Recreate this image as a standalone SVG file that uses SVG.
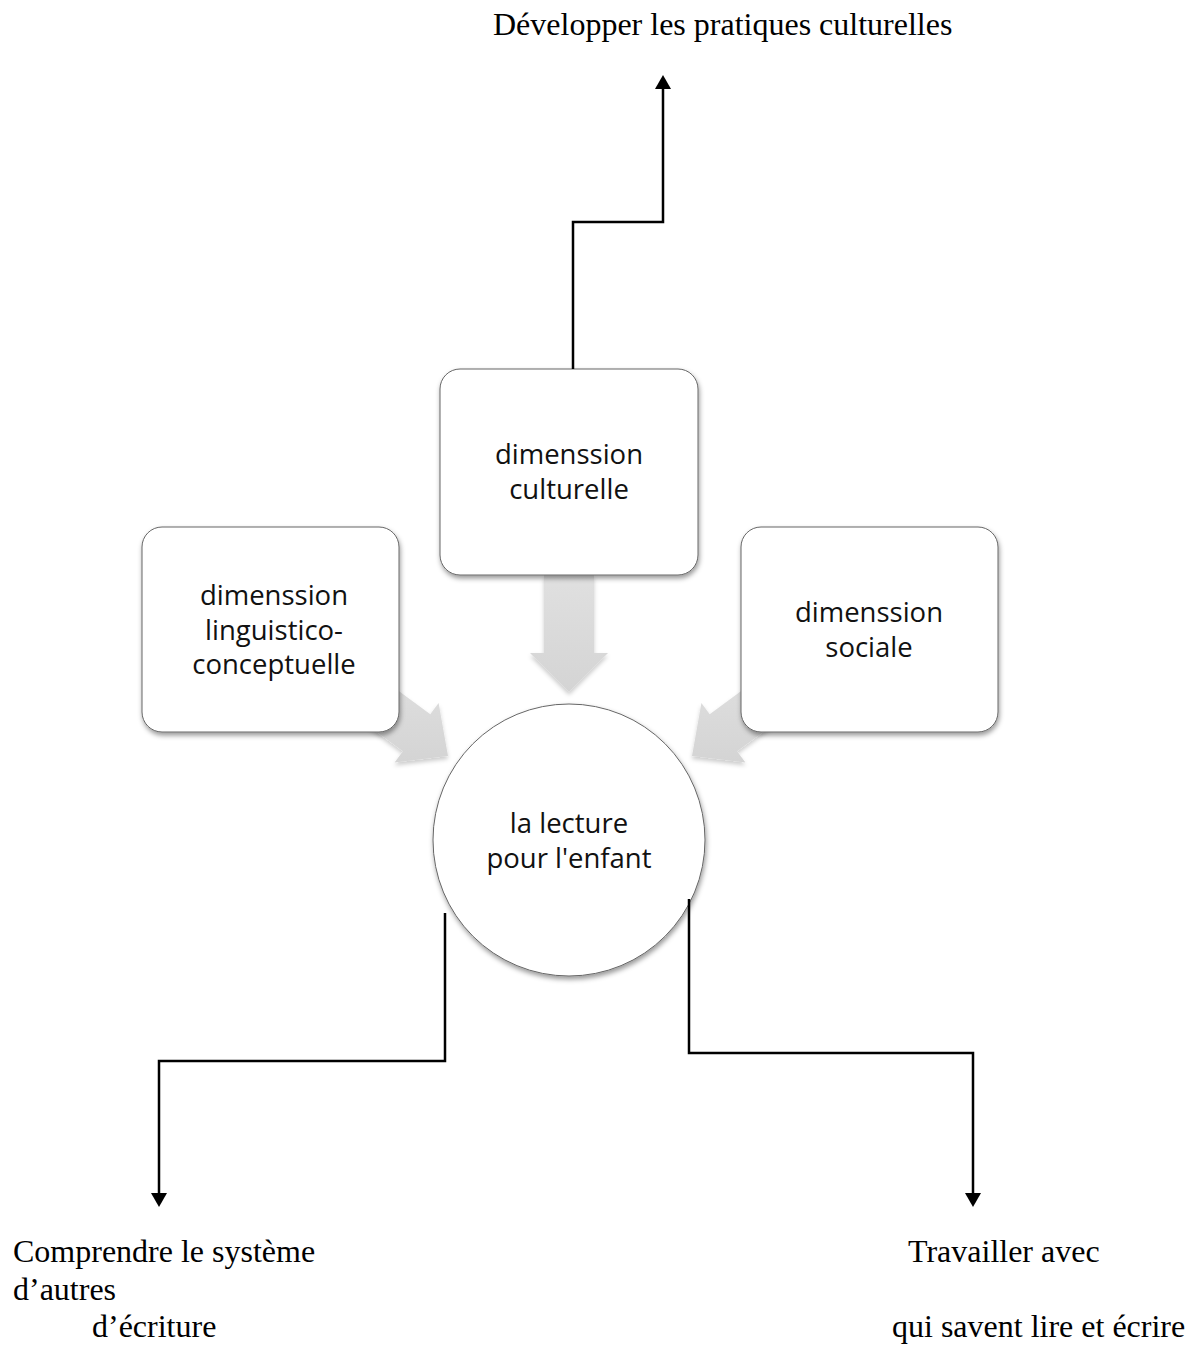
<svg xmlns="http://www.w3.org/2000/svg" width="1194" height="1345" viewBox="0 0 1194 1345">
  <defs>
    <filter id="shadow" x="-20%" y="-20%" width="140%" height="140%">
      <feDropShadow dx="1" dy="3" stdDeviation="2.5" flood-color="#000" flood-opacity="0.4"/>
    </filter>
    <filter id="ashadow" x="-20%" y="-20%" width="140%" height="140%">
      <feDropShadow dx="0" dy="3" stdDeviation="2" flood-color="#000" flood-opacity="0.2"/>
    </filter>
    <linearGradient id="grayfill" x1="0" y1="0" x2="0" y2="1">
      <stop offset="0" stop-color="#e0e0e0"/>
      <stop offset="1" stop-color="#d4d4d4"/>
    </linearGradient>
    <marker id="head" markerUnits="userSpaceOnUse" markerWidth="14" markerHeight="16" viewBox="0 -8 14 16" refX="0" refY="0" orient="auto">
      <path d="M0,-8 L14,0 L0,8 z" fill="#000"/>
    </marker>
    <style>
      .box { fill: #fff; stroke: #666; stroke-width: 1; filter: url(#shadow); }
      .garrow { fill: url(#grayfill); filter: url(#ashadow); }
      .node-text { font-family: "Open Sans", "Liberation Sans", sans-serif; font-size: 27.5px; fill: #111; text-anchor: middle; }
      .label { font-family: "Liberation Serif", "Times New Roman", serif; font-size: 32px; fill: #000; }
      .conn { fill: none; stroke: #000; stroke-width: 2.5; marker-end: url(#head); }
    </style>
  </defs>
  <rect width="1194" height="1345" fill="#fff"/>

  <g id="gray-arrows">
    <polygon class="garrow" points="544,575 594,575 594,653 608,653 569,692 530,653 544,653"/>
    <polygon class="garrow" points="365.9,666.8 430.3,714.3 438.6,703 448,756 394.6,762.6 402.9,751.3 338.5,703.8"/>
    <polygon class="garrow" points="774.1,666.8 709.7,714.3 701.4,703 692,756 745.4,762.6 737.1,751.3 801.5,703.8"/>
  </g>

  <g id="node-culturelle">
    <rect class="box" x="440" y="369" width="258" height="206" rx="20" ry="20"/>
    <text class="node-text" x="569" y="464">dimenssion</text>
    <text class="node-text" x="569" y="499">culturelle</text>
  </g>

  <g id="node-linguistico">
    <rect class="box" x="142" y="527" width="257" height="205" rx="20" ry="20"/>
    <text class="node-text" x="274" y="605">dimenssion</text>
    <text class="node-text" x="274" y="640">linguistico-</text>
    <text class="node-text" x="274" y="674">conceptuelle</text>
  </g>

  <g id="node-sociale">
    <rect class="box" x="741" y="527" width="257" height="205" rx="20" ry="20"/>
    <text class="node-text" x="869" y="622">dimenssion</text>
    <text class="node-text" x="869" y="657">sociale</text>
  </g>

  <g id="node-lecture">
    <circle class="box" cx="569" cy="840" r="136"/>
    <text class="node-text" x="569" y="833">la lecture</text>
    <text class="node-text" x="569" y="868">pour l'enfant</text>
  </g>

  <g id="connectors">
    <path class="conn" d="M573,369 V222 H663 V89"/>
    <path class="conn" d="M445,913 V1061 H159 V1193"/>
    <path class="conn" d="M689,899 V1053 H973 V1193"/>
  </g>

  <g id="label-top">
    <text class="label" x="493" y="35">Développer les pratiques culturelles</text>
  </g>
  <g id="label-left">
    <text class="label" x="13" y="1262">Comprendre le système</text>
    <text class="label" x="13" y="1300">d’autres</text>
    <text class="label" x="92" y="1337">d’écriture</text>
  </g>
  <g id="label-right">
    <text class="label" x="908" y="1262">Travailler avec</text>
    <text class="label" x="892" y="1337">qui savent lire et écrire</text>
  </g>
</svg>
